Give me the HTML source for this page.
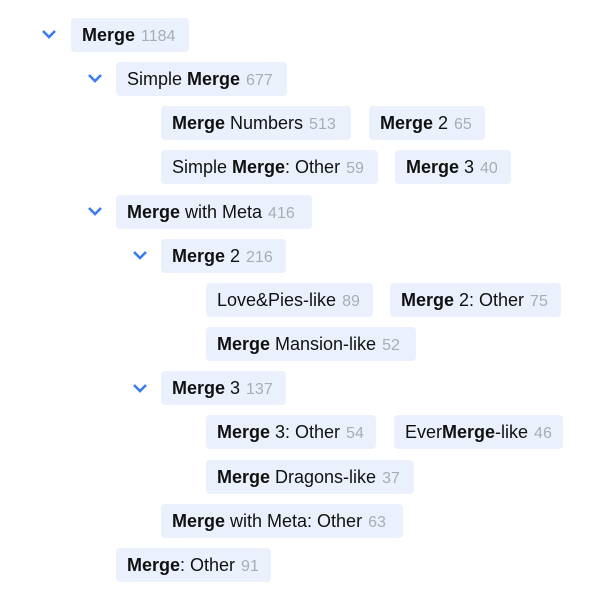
<!DOCTYPE html>
<html><head><meta charset="utf-8"><style>
html,body{margin:0;padding:0;background:#fff;width:600px;height:603px;overflow:hidden}
body{position:relative;font-family:"Liberation Sans",Arial,sans-serif;font-size:18px;color:#111}
.b{position:absolute;height:34px;line-height:34px;background:#eaf1fc;border-radius:4px;padding:0 11px;white-space:nowrap;box-sizing:border-box;overflow:hidden}
.b b{font-weight:bold}
.n{color:#a8adb5;font-size:16px;margin-left:6px}
.c{position:absolute;width:16px;height:10px}
</style></head><body>
<svg class="c" style="left:41px;top:29px" viewBox="0 0 16 10"><polyline points="2,2 8,8 14,2" fill="none" stroke="#3b7ded" stroke-width="2.6"/></svg>
<svg class="c" style="left:87px;top:73px" viewBox="0 0 16 10"><polyline points="2,2 8,8 14,2" fill="none" stroke="#3b7ded" stroke-width="2.6"/></svg>
<svg class="c" style="left:87px;top:206px" viewBox="0 0 16 10"><polyline points="2,2 8,8 14,2" fill="none" stroke="#3b7ded" stroke-width="2.6"/></svg>
<svg class="c" style="left:132px;top:250px" viewBox="0 0 16 10"><polyline points="2,2 8,8 14,2" fill="none" stroke="#3b7ded" stroke-width="2.6"/></svg>
<svg class="c" style="left:132px;top:383px" viewBox="0 0 16 10"><polyline points="2,2 8,8 14,2" fill="none" stroke="#3b7ded" stroke-width="2.6"/></svg>

<div class="b" style="left:71px;top:18px;width:118px"><b>Merge</b><span class="n">1184</span></div>
<div class="b" style="left:116px;top:62px;width:171px">Simple <b>Merge</b><span class="n">677</span></div>
<div class="b" style="left:161px;top:106px;width:190px"><b>Merge</b> Numbers<span class="n">513</span></div>
<div class="b" style="left:369px;top:106px;width:116px"><b>Merge</b> 2<span class="n">65</span></div>
<div class="b" style="left:161px;top:150px;width:217px">Simple <b>Merge</b>: Other<span class="n">59</span></div>
<div class="b" style="left:395px;top:150px;width:116px"><b>Merge</b> 3<span class="n">40</span></div>
<div class="b" style="left:116px;top:195px;width:196px"><b>Merge</b> with Meta<span class="n">416</span></div>
<div class="b" style="left:161px;top:239px;width:125px"><b>Merge</b> 2<span class="n">216</span></div>
<div class="b" style="left:206px;top:283px;width:167px">Love&amp;Pies-like<span class="n">89</span></div>
<div class="b" style="left:390px;top:283px;width:171px"><b>Merge</b> 2: Other<span class="n">75</span></div>
<div class="b" style="left:206px;top:327px;width:210px"><b>Merge</b> Mansion-like<span class="n">52</span></div>
<div class="b" style="left:161px;top:371px;width:125px"><b>Merge</b> 3<span class="n">137</span></div>
<div class="b" style="left:206px;top:415px;width:170px"><b>Merge</b> 3: Other<span class="n">54</span></div>
<div class="b" style="left:394px;top:415px;width:169px">Ever<b>Merge</b>-like<span class="n">46</span></div>
<div class="b" style="left:206px;top:460px;width:208px"><b>Merge</b> Dragons-like<span class="n">37</span></div>
<div class="b" style="left:161px;top:504px;width:242px"><b>Merge</b> with Meta: Other<span class="n">63</span></div>
<div class="b" style="left:116px;top:548px;width:155px"><b>Merge</b>: Other<span class="n">91</span></div>
</body></html>
